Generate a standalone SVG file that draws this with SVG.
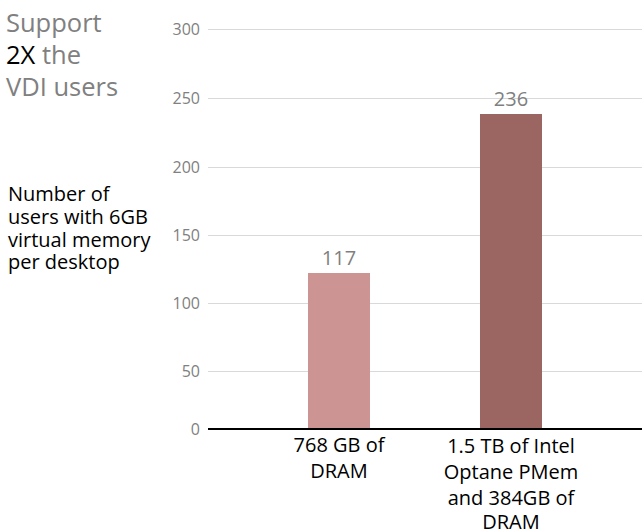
<svg xmlns="http://www.w3.org/2000/svg" width="642" height="531" viewBox="0 0 642 531">
<style>
text{font-family:"Open Sans","Noto Sans","Liberation Sans",sans-serif}
.title{font-size:25.5px;fill:#808080}
.tick{font-size:16px;fill:#808080;text-anchor:end}
.ylab{font-size:20px;fill:#000}
.val{font-size:20px;fill:#7f7f7f;text-anchor:middle}
.cat{font-size:20px;fill:#000;text-anchor:middle}
.grid{stroke:#d9d9d9;stroke-width:1}
</style>
<rect width="642" height="531" fill="#fff"/>
<g id="title">
<text class="title" x="6" y="32">Support</text>
<text class="title" x="6" y="64"><tspan fill="#000">2X</tspan> the</text>
<text class="title" x="6" y="96">VDI users</text>
</g>
<g id="y-axis-label">
<text class="ylab" x="8" y="201">Number of</text>
<text class="ylab" x="8" y="224">users with 6GB</text>
<text class="ylab" x="8" y="246.5">virtual memory</text>
<text class="ylab" x="8" y="269">per desktop</text>
</g>
<g id="gridlines">
<line class="grid" x1="208" y1="29.5" x2="642" y2="29.5"/>
<line class="grid" x1="208" y1="98.5" x2="642" y2="98.5"/>
<line class="grid" x1="208" y1="167.5" x2="642" y2="167.5"/>
<line class="grid" x1="208" y1="235.5" x2="642" y2="235.5"/>
<line class="grid" x1="208" y1="303.5" x2="642" y2="303.5"/>
<line class="grid" x1="208" y1="371.5" x2="642" y2="371.5"/>
</g>
<g id="y-ticks">
<text class="tick" x="200" y="34.5">300</text>
<text class="tick" x="200" y="103.5">250</text>
<text class="tick" x="200" y="172.5">200</text>
<text class="tick" x="200" y="240.5">150</text>
<text class="tick" x="200" y="308.5">100</text>
<text class="tick" x="200" y="376.5">50</text>
<text class="tick" x="200" y="434.5">0</text>
</g>
<g id="bar-dram">
<rect x="308" y="273" width="62" height="156" fill="#cc9593"/>
<text class="val" x="339" y="265">117</text>
<text class="cat" x="339" y="452">768 GB of</text>
<text class="cat" x="339" y="477.5">DRAM</text>
</g>
<g id="bar-pmem">
<rect x="480" y="114" width="62" height="315" fill="#9b6662"/>
<text class="val" x="511" y="106">236</text>
<text class="cat" x="511" y="453">1.5 TB of Intel</text>
<text class="cat" x="511" y="479">Optane PMem</text>
<text class="cat" x="511" y="504.5">and 384GB of</text>
<text class="cat" x="511" y="529">DRAM</text>
</g>
<g id="axis">
<line x1="208" y1="429" x2="642" y2="429" stroke="#000" stroke-width="2"/>
</g>
</svg>
